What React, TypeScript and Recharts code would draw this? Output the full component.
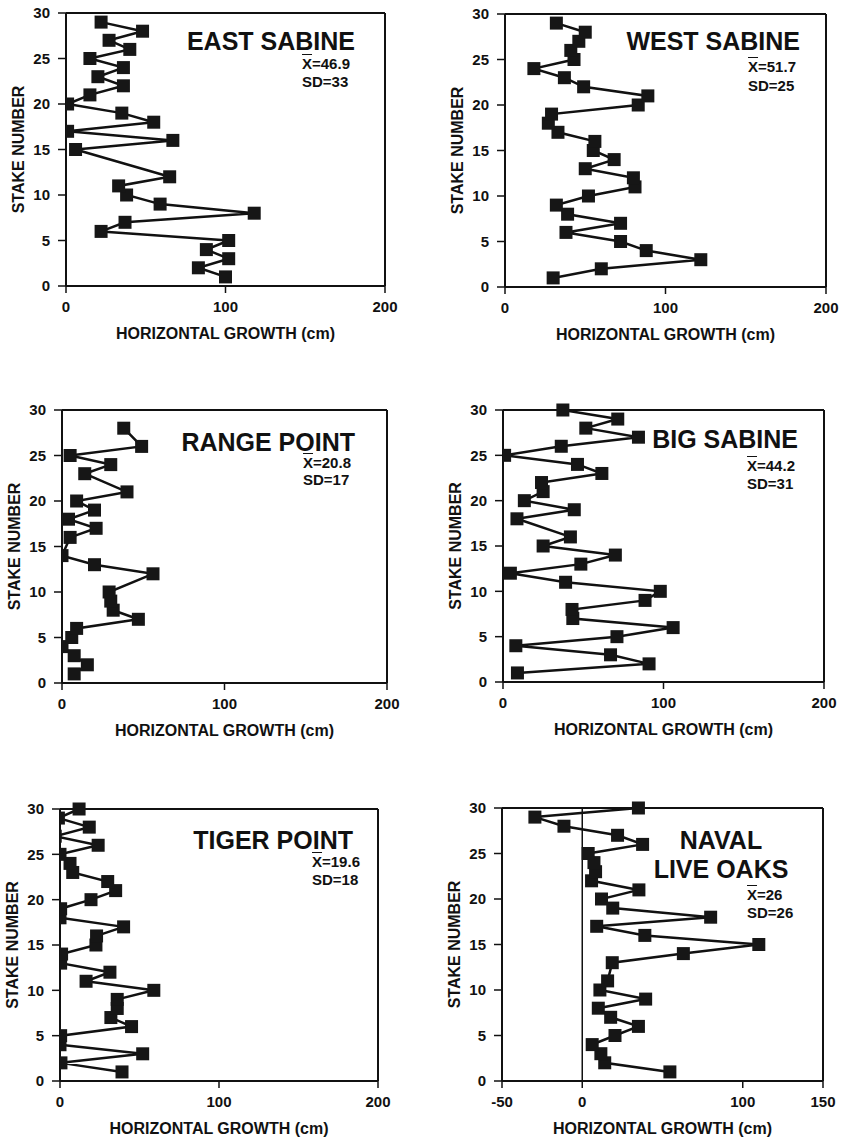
import React from 'react';
import { LineChart, Line, XAxis, YAxis, ReferenceLine } from 'recharts';

// Stake numbers (vertical axis)
const STAKES = [
  1, 2, 3, 4, 5, 6, 7, 8, 9, 10, 11, 12, 13, 14, 15,
  16, 17, 18, 19, 20, 21, 22, 23, 24, 25, 26, 27, 28, 29, 30,
];

// Horizontal growth (cm) by stake 1..30, null = no stake measured
const EAST_SABINE = [
  100, 83, 102, 88, 102, 22, 37, 118, 59, 38, 33, 65, null, null, 6,
  67, 1, 55, 35, 1, 15, 36, 20, 36, 15, 40, 27, 48, 22, null,
];
const WEST_SABINE = [
  30, 60, 122, 88, 72, 38, 72, 39, 32, 52, 81, 80, 50, 68, 55,
  56, 33, 27, 29, 83, 89, 49, 37, 18, 43, 41, 46, 50, 32, null,
];
const RANGE_POINT = [
  7.5, 15.6, 7.5, 0, 6, 9, 47, 31.5, 30, 29, null, 56, 20, 0, null,
  5, 21, 4, 20, 9, 40, null, 14, 30, 5, 49, null, 38, null, null,
];
const BIG_SABINE = [
  9, 91, 67, 8, 71, 106, 43.5, 43, 88.5, 98, 39, 4.6, 48.5, 70, 25,
  42, null, 8.7, 44.4, 13.3, 25, 24, 61.6, 46.4, 1, 36.3, 84.4, 51.6, 71.5, 37.3,
];
const TIGER_POINT = [
  39, 0.6, 52, 0, 0.4, 45, 32, 36, 36, 59, 16.4, 31.4, 0.4, 1, 22.6,
  23, 40, 0, 0.4, 19.5, 35, 30, 8, 6.3, 0, 24, -3, 18.4, -1, 12,
];
const NAVAL_LIVE_OAKS = [
  54.6, 14, 11.6, 6.2, 20.4, 35, 17.7, 10, 39.5, 11, 15.8, null, 18.7, 63, 110,
  39, 9, 80, 19, 12, 35.3, 5.8, 8.3, 7.3, 3.7, 37.6, 22, -11.4, -29.5, 35,
];

const STAKE_TICKS = [0, 5, 10, 15, 20, 25, 30];
const GROWTH_TICKS = [0, 100, 200];
const NAVAL_TICKS = [-50, 0, 100, 150];

const FONT = '"Liberation Sans", Arial, Helvetica, sans-serif';
const INK = '#111';

interface Panel {
  title: string[];
  mean: string;
  sd: string;
  values: (number | null)[];
  domain: [number, number];
  ticks: number[];
  zeroLine?: boolean;
  // plot box in page pixels
  x0: number;
  x1: number;
  y0: number;
  y1: number;
  // annotation placement
  titleRight?: number;
  titleCenter?: number;
  titleY: number[];
  statsLeft: number;
  statsY: [number, number];
}

const PANELS: Panel[] = [
  {
    title: ['EAST SABINE'], mean: '46.9', sd: '33', values: EAST_SABINE,
    domain: [0, 200], ticks: GROWTH_TICKS,
    x0: 66, x1: 385, y0: 13, y1: 286,
    titleRight: 355, titleY: [41.5], statsLeft: 302, statsY: [63, 81],
  },
  {
    title: ['WEST SABINE'], mean: '51.7', sd: '25', values: WEST_SABINE,
    domain: [0, 200], ticks: GROWTH_TICKS,
    x0: 505, x1: 826, y0: 14, y1: 287,
    titleRight: 800, titleY: [41], statsLeft: 748, statsY: [66, 85],
  },
  {
    title: ['RANGE POINT'], mean: '20.8', sd: '17', values: RANGE_POINT,
    domain: [0, 200], ticks: GROWTH_TICKS,
    x0: 62, x1: 387, y0: 410, y1: 683,
    titleRight: 355, titleY: [442], statsLeft: 303, statsY: [462.5, 479],
  },
  {
    title: ['BIG SABINE'], mean: '44.2', sd: '31', values: BIG_SABINE,
    domain: [0, 200], ticks: GROWTH_TICKS,
    x0: 503, x1: 824, y0: 410, y1: 682,
    titleRight: 798, titleY: [439], statsLeft: 747, statsY: [465, 483],
  },
  {
    title: ['TIGER POINT'], mean: '19.6', sd: '18', values: TIGER_POINT,
    domain: [0, 200], ticks: GROWTH_TICKS,
    x0: 60, x1: 378, y0: 809, y1: 1081,
    titleRight: 353, titleY: [840], statsLeft: 312, statsY: [861, 879],
  },
  {
    title: ['NAVAL', 'LIVE OAKS'], mean: '26', sd: '26', values: NAVAL_LIVE_OAKS,
    domain: [-50, 150], ticks: NAVAL_TICKS, zeroLine: true,
    x0: 502, x1: 823, y0: 808, y1: 1081,
    titleCenter: 721, titleY: [840, 869], statsLeft: 747, statsY: [894, 912],
  },
];

const LEFT_SPACE = 60;
const TOP_SPACE = 10;
const RIGHT_SPACE = 16;
const BOTTOM_SPACE = 56;

function SquareDot(props: any) {
  const { cx, cy } = props;
  if (cx == null || cy == null || Number.isNaN(cx) || Number.isNaN(cy)) return null;
  return <rect x={cx - 6.5} y={cy - 6.5} width={13} height={13} fill="#161616" />;
}

function GrowthPanel({ panel }: { panel: Panel }) {
  const rows = STAKES.map((stake, i) => ({ stake, growth: panel.values[i] }));
  const plotW = panel.x1 - panel.x0;
  const plotH = panel.y1 - panel.y0;
  const left = panel.x0 - LEFT_SPACE;
  const top = panel.y0 - TOP_SPACE;
  const tickStyle = { fill: INK, fontSize: 15, fontWeight: 700, fontFamily: FONT };

  return (
    <div style={{ position: 'absolute', left, top }}>
      <LineChart
        width={plotW + LEFT_SPACE + RIGHT_SPACE}
        height={plotH + TOP_SPACE + BOTTOM_SPACE}
        layout="vertical"
        data={rows}
        margin={{ top: TOP_SPACE, right: RIGHT_SPACE, bottom: 0, left: 0 }}
      >
        <XAxis
          type="number"
          domain={panel.domain}
          ticks={panel.ticks}
          allowDataOverflow
          height={BOTTOM_SPACE}
          tickSize={7}
          tickMargin={8}
          axisLine={{ stroke: INK, strokeWidth: 2 }}
          tickLine={{ stroke: INK, strokeWidth: 1.5 }}
          tick={tickStyle}
          label={{
            value: 'HORIZONTAL GROWTH (cm)',
            position: 'insideBottom',
            offset: 3,
            style: { fill: INK, fontSize: 16, fontWeight: 700, fontFamily: FONT },
          }}
        />
        <YAxis
          type="number"
          dataKey="stake"
          domain={[0, 30]}
          ticks={STAKE_TICKS}
          reversed
          width={LEFT_SPACE}
          tickSize={8}
          tickMargin={8}
          axisLine={{ stroke: INK, strokeWidth: 2 }}
          tickLine={{ stroke: INK, strokeWidth: 1.5 }}
          tick={tickStyle}
          label={{
            value: 'STAKE NUMBER',
            angle: -90,
            position: 'insideLeft',
            offset: 12.5,
            style: { fill: INK, fontSize: 16, fontWeight: 700, fontFamily: FONT, textAnchor: 'middle' },
          }}
        />
        {/* plot frame */}
        <ReferenceLine y={30} stroke={INK} strokeWidth={2} />
        <ReferenceLine x={panel.domain[1]} stroke={INK} strokeWidth={2} />
        {panel.zeroLine && <ReferenceLine x={0} stroke={INK} strokeWidth={1.5} />}
        <Line
          dataKey="growth"
          stroke={INK}
          strokeWidth={2.5}
          dot={(p: any) => <SquareDot key={`d-${p.index}`} {...p} />}
          activeDot={false}
          isAnimationActive={false}
        />
      </LineChart>

      {/* site name and statistics */}
      {panel.title.map((line, i) => {
        const fs = 25;
        const style: React.CSSProperties = panel.titleCenter
          ? { left: panel.titleCenter - 150 - left, width: 300, textAlign: 'center' }
          : { left: (panel.titleRight as number) - 300 - left, width: 300, textAlign: 'right' };
        return (
          <div
            key={line}
            style={{
              position: 'absolute', top: panel.titleY[i] - 0.49 * fs - top, ...style,
              fontFamily: FONT, fontWeight: 700, fontSize: fs, lineHeight: 1, color: INK,
              whiteSpace: 'nowrap',
            }}
          >
            {line}
          </div>
        );
      })}
      {[0, 1].map((i) => {
        const fs = 15;
        return (
          <div
            key={i}
            style={{
              position: 'absolute',
              left: panel.statsLeft - left,
              top: panel.statsY[i] - 0.49 * fs - top,
              fontFamily: FONT, fontWeight: 700, fontSize: fs, lineHeight: 1, color: INK,
              whiteSpace: 'nowrap',
            }}
          >
            {i === 0 ? (
              <>
                <span style={{ textDecoration: 'overline' }}>X</span>={panel.mean}
              </>
            ) : (
              <>SD={panel.sd}</>
            )}
          </div>
        );
      })}
    </div>
  );
}

export default function App() {
  return (
    <div style={{ position: 'absolute', left: 0, top: 0, width: 841, height: 1137, background: '#fff' }}>
      {PANELS.map((p) => (
        <GrowthPanel key={p.title.join(' ')} panel={p} />
      ))}
    </div>
  );
}
